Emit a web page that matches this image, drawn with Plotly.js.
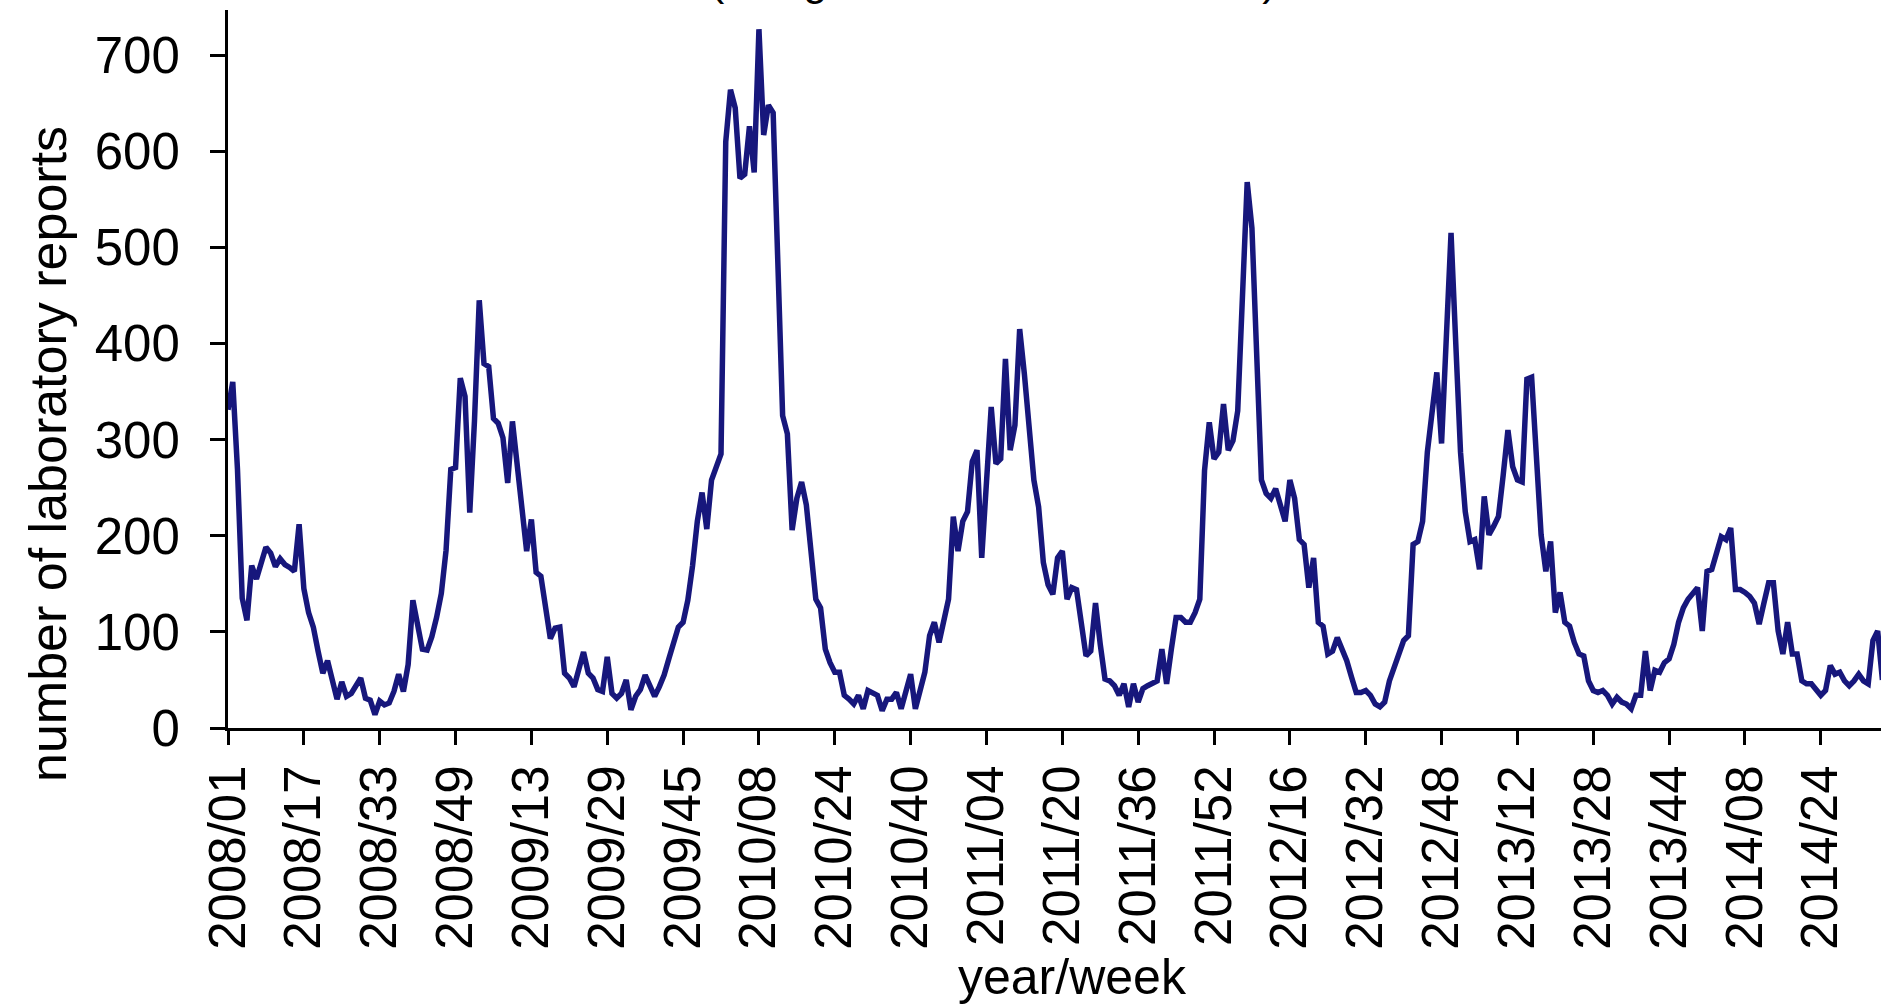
<!DOCTYPE html>
<html>
<head>
<meta charset="utf-8">
<script src="https://cdn.plot.ly/plotly-3.0.1.min.js"></script>
<style>html,body{margin:0;padding:0;background:#fff;}#chart{width:1881px;height:1007px;}</style>
</head>
<body>
<div id="chart"></div>
<script>
// ---- data: weekly number of laboratory reports ----
var years = [2008, 2009, 2010, 2011, 2012, 2013, 2014];
var weeksInYear = [52, 53, 52, 52, 52, 52, 37]; // 2014 shown up to week 37

var reports2008 = [331,360,269,135,112,169,155,172,188,182,168,176,170,167,163,212,145,120,105,80,
                   57,70,50,30,48,33,36,44,52,31,29,14,28,24,26,38,56,38,66,133,
                   104,82,81,95,115,140,185,269,271,364,345,224];
var reports2009 = [320,445,379,376,322,317,302,255,319,274,225,184,217,162,158,125,93,104,105,57,
                   52,43,60,79,57,52,40,38,74,36,31,36,50,19,33,40,55,45,33,43,
                   55,72,88,105,110,133,169,215,245,207,258,271,285];
var reports2010 = [610,664,645,572,576,626,578,727,617,648,640,470,325,306,206,239,256,232,182,134,
                   125,82,68,58,58,34,30,25,34,20,39,37,34,18,30,30,37,20,39,56,
                   20,39,58,96,110,89,110,134,220,184,215,225];
var reports2011 = [277,289,177,263,334,275,280,384,289,315,415,368,306,258,230,172,149,139,177,184,
                   134,146,144,106,75,80,130,87,51,49,44,34,46,22,46,27,41,44,46,49,
                   82,46,82,115,115,110,110,120,134,268,318,280];
var reports2012 = [287,337,289,299,330,434,568,520,382,258,244,239,249,230,215,258,239,196,191,146,
                   177,110,106,77,80,94,82,70,53,37,37,39,34,25,22,27,49,63,77,91,
                   96,191,194,215,287,330,370,296,401,515,400,287];
var reports2013 = [225,194,196,165,241,201,210,220,263,310,272,258,256,363,365,277,201,163,194,120,
                   141,110,106,89,77,75,49,39,37,39,34,25,32,27,25,20,34,34,80,39,
                   60,58,68,72,87,110,125,134,141,146,101,163];
var reports2014 = [165,180,199,196,208,144,144,141,137,130,108,130,151,151,101,77,110,77,77,49,
                   46,46,41,34,39,65,56,58,49,44,49,56,49,46,91,101,50];

var yTickValues = [0, 100, 200, 300, 400, 500, 600, 700];
var xTickEvery = 16;

// ---- build categories ----
function pad2(n){ return (n < 10 ? '0' : '') + n; }
var weekLabels = [];
years.forEach(function(y, k){
  for (var w = 1; w <= weeksInYear[k]; w++) weekLabels.push(y + '/' + pad2(w));
});
var values = [].concat(reports2008, reports2009, reports2010, reports2011,
                       reports2012, reports2013, reports2014);
var tickLabels = weekLabels.filter(function(_, i){ return i % xTickEvery === 0; });

var FONT = 'Liberation Sans, Arial, Helvetica, sans-serif';
var plotTop = 10, plotBottom = 728, plotLeft = 228;
var plotH = plotBottom - plotTop, plotW = 1881 - plotLeft;
function py(Y){ return (plotBottom - Y) / plotH; }
function px(X){ return (X - plotLeft) / plotW; }

var trace = {
  type: 'scatter', mode: 'lines',
  x: weekLabels, y: values,
  line: {color: '#17177c', width: 5.5},
  hoverinfo: 'skip', cliponaxis: true
};

var layout = {
  width: 1881, height: 1007,
  margin: {l: plotLeft, r: 0, t: plotTop, b: 1007 - plotBottom, pad: 0},
  paper_bgcolor: '#ffffff', plot_bgcolor: '#ffffff',
  showlegend: false,
  font: {family: FONT, color: '#000', size: 50},
  xaxis: {
    type: 'category', range: [0, 348.7],
    tickmode: 'array', tickvals: tickLabels, ticktext: tickLabels,
    tickangle: -90, ticks: 'outside', ticklen: 14, tickwidth: 3, tickcolor: '#000',
    showline: true, linewidth: 3, linecolor: '#000',
    showgrid: false, zeroline: false,
    tickfont: {family: FONT, size: 51, color: '#000'},
    ticklabelstandoff: 0, fixedrange: true
  },
  yaxis: {
    range: [0, 747],
    tickmode: 'array', tickvals: yTickValues, ticktext: yTickValues.map(String),
    ticks: 'outside', ticklen: 15, tickwidth: 3, tickcolor: '#000',
    showline: true, linewidth: 3, linecolor: '#000',
    showgrid: false, zeroline: false,
    tickfont: {family: FONT, size: 51, color: '#000'},
    ticklabelstandoff: 20, fixedrange: true
  },
  annotations: [
    {text: 'number of laboratory reports', xref: 'paper', yref: 'paper',
     x: px(48), y: py(454), xanchor: 'center', yanchor: 'middle',
     textangle: -90, showarrow: false, font: {family: FONT, size: 52, color: '#000'}},
    {text: 'year/week', xref: 'paper', yref: 'paper',
     x: px(1072), y: py(977), xanchor: 'center', yanchor: 'middle',
     showarrow: false, font: {family: FONT, size: 50, color: '#000'}},
    {text: '(using the date of test results)', xref: 'paper', yref: 'paper',
     x: px(993), y: py(-20), xanchor: 'center', yanchor: 'middle',
     showarrow: false, font: {family: FONT, size: 43, color: '#000'}}
  ]
};

Plotly.newPlot('chart', [trace], layout, {staticPlot: true, displayModeBar: false});
</script>
</body>
</html>
